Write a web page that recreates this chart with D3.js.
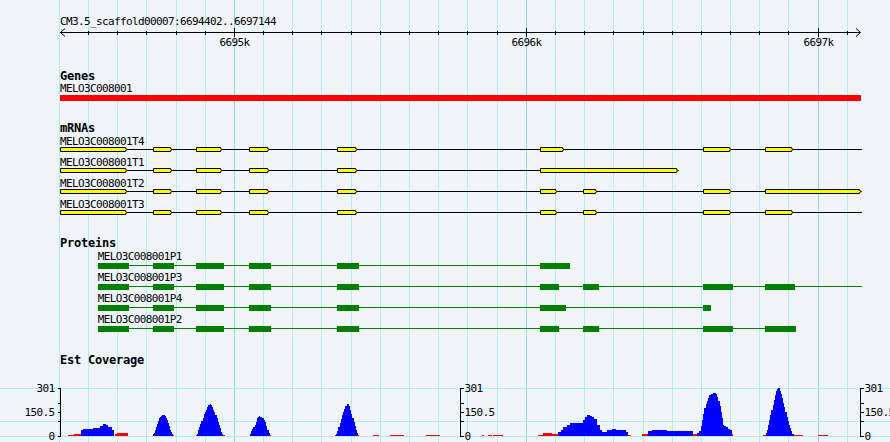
<!DOCTYPE html>
<html><head><meta charset="utf-8">
<script src="https://cdn.jsdelivr.net/npm/d3@7/dist/d3.min.js"></script>
<style>
body{margin:0;background:#f1f4f9}
svg{display:block}
.sm{font-family:'DejaVu Sans Mono',monospace;font-size:11px;letter-spacing:-0.62px;fill:#000}
.bd{font-family:'DejaVu Sans Mono',monospace;font-size:12px;font-weight:bold;letter-spacing:-0.22px;fill:#000}
</style>
</head><body>
<svg id="c" width="890" height="442"></svg>
<script>
// ---------- DATA ----------
const regionStart = 6694402;
const regionEnd = 6697144;
const regionTitle = "CM3.5_scaffold00007:6694402..6697144";
const rulerMajorTicks = [6695000, 6696000, 6697000];
const rulerMajorLabels = ["6695k", "6696k", "6697k"];
const trackTitles = ["Genes", "mRNAs", "Proteins", "Est Coverage"];

const geneNames = ["MELO3C008001"];
const geneSpans = [[6694402, 6697144]];

const mrnaNames = ["MELO3C008001T4", "MELO3C008001T1", "MELO3C008001T2", "MELO3C008001T3"];
const mrnaSpans = [[6694402, 6697150], [6694402, 6696521], [6694402, 6697146], [6694402, 6697150]];
const mrnaExons = [
  [[6694402,6694631],[6694721,6694786],[6694868,6694957],[6695050,6695117],[6695351,6695419],[6696048,6696129],[6696605,6696700],[6696817,6696913]],
  [[6694402,6694631],[6694721,6694786],[6694868,6694957],[6695050,6695117],[6695351,6695419],[6696048,6696521]],
  [[6694402,6694631],[6694721,6694786],[6694868,6694957],[6695050,6695117],[6695351,6695419],[6696048,6696104],[6696194,6696241],[6696605,6696700],[6696817,6697146]],
  [[6694402,6694631],[6694721,6694786],[6694868,6694957],[6695050,6695117],[6695351,6695419],[6696048,6696104],[6696194,6696241],[6696605,6696700],[6696817,6696913]]
];

const proteinNames = ["MELO3C008001P1", "MELO3C008001P3", "MELO3C008001P4", "MELO3C008001P2"];
const proteinSpans = [[6694532, 6696150], [6694532, 6697150], [6694532, 6696633], [6694532, 6696923]];
const proteinCds = [
  [[6694532,6694639],[6694721,6694793],[6694868,6694963],[6695050,6695125],[6695351,6695427],[6696047,6696150]],
  [[6694532,6694639],[6694721,6694793],[6694868,6694963],[6695050,6695125],[6695351,6695427],[6696047,6696112],[6696194,6696249],[6696605,6696708],[6696817,6696920]],
  [[6694532,6694639],[6694721,6694793],[6694868,6694963],[6695050,6695125],[6695351,6695427],[6696047,6696136],[6696605,6696633]],
  [[6694532,6694639],[6694721,6694793],[6694868,6694963],[6695050,6695125],[6695351,6695427],[6696047,6696112],[6696194,6696249],[6696605,6696708],[6696817,6696923]]
];

// coverage: offsets (bp) from regionStart; blue peaks as step points [offset, value]
const covMax = 301;
const covTickLabels = ["0", "150.5", "301"];
const covTickValues = [0, 150.5, 301];
const covMinorTicks = [96, 205];
const covGridValues = [0, 96, 301];
const covBlue = [
  [[72,38],[80,42],[94,44],[114,50],[128,48],[137,63],[149,73],[158,70],[166,58],[177,36],[185,0]],
  [[320,10],[323,20],[327,35],[330,55],[334,75],[337,95],[341,110],[344,122],[347,128],[351,132],[358,130],[361,125],[365,115],[368,100],[372,80],[375,60],[378,40],[382,25],[385,12],[389,0]],
  [[469,15],[473,35],[477,55],[481,75],[485,95],[489,115],[493,135],[497,150],[501,165],[505,180],[509,192],[513,200],[517,192],[521,180],[525,165],[529,148],[533,130],[537,110],[541,90],[545,70],[549,48],[553,28],[557,12],[560,0]],
  [[651,15],[655,30],[659,45],[663,55],[667,70],[671,90],[675,110],[679,120],[683,125],[687,120],[691,115],[695,110],[699,100],[703,85],[707,65],[711,40],[715,20],[719,0]],
  [[946,12],[950,30],[954,55],[958,80],[962,105],[966,130],[970,150],[974,170],[978,188],[982,198],[986,198],[990,185],[994,165],[998,140],[1002,115],[1006,90],[1010,65],[1014,40],[1018,20],[1022,0]],
  [[1708,27],[1716,40],[1725,54],[1737,70],[1748,80],[1771,82],[1793,100],[1800,118],[1805,132],[1815,128],[1822,122],[1830,105],[1839,70],[1850,35],[1857,28],[1873,38],[1890,42],[1907,40],[1924,35],[1941,25],[1947,0]],
  [[2016,30],[2028,38],[2062,38],[2079,33],[2113,33],[2170,0]],
  [[2182,20],[2189,30],[2196,60],[2200,100],[2204,140],[2208,173],[2212,200],[2216,220],[2220,240],[2225,255],[2230,265],[2236,272],[2242,272],[2248,262],[2252,245],[2256,220],[2260,190],[2264,150],[2268,110],[2272,69],[2276,60],[2282,54],[2290,45],[2296,36],[2302,0]],
  [[2418,20],[2422,40],[2426,70],[2430,100],[2434,132],[2438,165],[2442,195],[2446,226],[2450,255],[2454,280],[2458,295],[2462,301],[2466,285],[2470,265],[2474,240],[2478,210],[2482,180],[2486,150],[2490,120],[2494,95],[2498,70],[2502,50],[2506,30],[2510,15],[2514,0]]
];
// red segments [startOffset, endOffset, value]
const covRed = [
  [29,48,6],[48,72,15],[189,195,10],[195,232,19],[386,391,4],[465,470,5],[554,566,5],[716,722,5],
  [944,950,5],[1017,1025,5],[1072,1094,6],[1131,1179,6],[1254,1302,6],[1445,1453,4],[1467,1479,4],
  [1483,1519,6],[1639,1656,8],[1656,1685,18],[1685,1708,14],[1946,1958,5],[1993,2016,10],
  [2170,2182,15],[2299,2306,12],[2410,2418,5],[2513,2547,6],[2598,2632,6]
];

// ---------- DRAW ----------
const W = 890, H = 442;
const svg = d3.select("#c");
const x = d3.scaleLinear().domain([regionStart, regionEnd + 1]).range([59.9, 860.5]);
const px = v => Math.floor(x(v)) + 0.5;

// background
svg.append("rect").attr("width", W).attr("height", H).attr("fill", "#f1f4f9");

// vertical grid lines
const gridG = svg.append("g").attr("shape-rendering", "crispEdges");
d3.range(6694400, 6697101, 100).forEach(p => {
  gridG.append("line").attr("x1", px(p)).attr("x2", px(p)).attr("y1", 0).attr("y2", H)
    .attr("stroke", p % 1000 === 0 ? "#8dd6ec" : "#b0eef2").attr("stroke-width", 1);
});

// coverage scale + horizontal grid
const y = d3.scaleLinear().domain([0, covMax]).range([436, 388]);
covGridValues.forEach(v => {
  gridG.append("line").attr("x1", 0).attr("x2", W)
    .attr("y1", Math.round(y(v)) + 0.5).attr("y2", Math.round(y(v)) + 0.5)
    .attr("stroke", "#b0eef2");
});

// ruler
const rul = svg.append("g");
rul.append("text").attr("class", "sm").attr("x", 60).attr("y", 25).text(regionTitle);
rul.append("line").attr("x1", 60).attr("x2", 860).attr("y1", 32.5).attr("y2", 32.5).attr("stroke", "#000");
rul.append("path").attr("d", "M65,28.5L60.5,32.5L65,36.5").attr("fill", "none").attr("stroke", "#000");
rul.append("path").attr("d", "M856,28.5L860.5,32.5L856,36.5").attr("fill", "none").attr("stroke", "#000");
d3.range(6694500, 6697101, 100).forEach(p => {
  const major = rulerMajorTicks.includes(p);
  rul.append("line").attr("x1", px(p)).attr("x2", px(p))
    .attr("y1", major ? 28 : 30.5).attr("y2", major ? 37 : 34.5).attr("stroke", "#000")
    .attr("shape-rendering", "crispEdges");
});
rulerMajorTicks.forEach((p, i) => {
  rul.append("text").attr("class", "sm").attr("x", px(p)).attr("y", 46)
    .attr("text-anchor", "middle").text(rulerMajorLabels[i]);
});

// Genes track
svg.append("text").attr("class", "bd").attr("x", 60).attr("y", 80).text(trackTitles[0]);
geneNames.forEach((n, i) => {
  svg.append("text").attr("class", "sm").attr("x", 60).attr("y", 92).text(n);
  svg.append("rect").attr("x", x(geneSpans[i][0])).attr("y", 95)
    .attr("width", x(geneSpans[i][1] + 1) - x(geneSpans[i][0])).attr("height", 6)
    .attr("fill", "#ff0000").attr("shape-rendering", "crispEdges");
});

// mRNAs track
svg.append("text").attr("class", "bd").attr("x", 60).attr("y", 132).text(trackTitles[1]);
mrnaNames.forEach((n, i) => {
  const ly = 149.5 + i * 21;
  svg.append("text").attr("class", "sm").attr("x", 60).attr("y", ly - 5).text(n);
  svg.append("line").attr("x1", x(mrnaSpans[i][0])).attr("x2", x(mrnaSpans[i][1]))
    .attr("y1", ly).attr("y2", ly).attr("stroke", "#000").attr("stroke-width", 1);
  mrnaExons[i].forEach(e => {
    const x0 = Math.round(x(e[0])) + 0.5, x1 = Math.round(x(e[1])) + 0.5;
    svg.append("path")
      .attr("d", `M${x0},${ly - 2}H${x1 - 2}V${ly - 1}L${x1},${ly}L${x1 - 2},${ly + 1}V${ly + 2}H${x0}Z`)
      .attr("fill", "#ffff00").attr("stroke", "#000").attr("stroke-width", 1);
  });
});

// Proteins track
svg.append("text").attr("class", "bd").attr("x", 60).attr("y", 247).text(trackTitles[2]);
proteinNames.forEach((n, i) => {
  const ly = 265.5 + i * 21;
  svg.append("text").attr("class", "sm").attr("x", x(proteinSpans[i][0])).attr("y", ly - 6).text(n);
  svg.append("line").attr("x1", x(proteinSpans[i][0])).attr("x2", x(proteinSpans[i][1]))
    .attr("y1", ly).attr("y2", ly).attr("stroke", "#008000").attr("stroke-width", 1);
  proteinCds[i].forEach(c => {
    svg.append("rect").attr("x", Math.round(x(c[0]))).attr("y", ly - 2.5)
      .attr("width", Math.round(x(c[1])) - Math.round(x(c[0]))).attr("height", 6)
      .attr("fill", "#008000").attr("shape-rendering", "crispEdges");
  });
});

// Coverage track
svg.append("text").attr("class", "bd").attr("x", 60).attr("y", 364).text(trackTitles[3]);
const covG = svg.append("g");
covRed.forEach(r => {
  covG.append("rect").attr("x", x(regionStart + r[0])).attr("y", y(r[2]))
    .attr("width", x(regionStart + r[1]) - x(regionStart + r[0])).attr("height", y(0) - y(r[2]))
    .attr("fill", "#ff0000").attr("shape-rendering", "crispEdges");
});
const area = d3.area().curve(d3.curveStepAfter)
  .x(d => x(regionStart + d[0])).y0(y(0)).y1(d => y(d[1]));
covBlue.forEach(seg => {
  covG.append("path").attr("d", area(seg)).attr("fill", "#0000ff").attr("shape-rendering", "crispEdges");
});

// coverage axes
const axes = [{ax: 60.5, dir: -1}, {ax: 460.5, dir: 1}, {ax: 860.5, dir: 1}];
axes.forEach(a => {
  const g = svg.append("g").attr("shape-rendering", "crispEdges");
  g.append("line").attr("x1", a.ax).attr("x2", a.ax).attr("y1", y(covMax)).attr("y2", y(0) + 1).attr("stroke", "#000");
  covTickValues.concat(covMinorTicks).forEach(v => {
    const ty = Math.round(y(v)) + 0.5;
    g.append("line").attr("x1", a.ax).attr("x2", a.ax + a.dir * 3).attr("y1", ty).attr("y2", ty).attr("stroke", "#000");
  });
  covTickValues.forEach((v, i) => {
    g.append("text").attr("class", "sm")
      .attr("x", a.dir < 0 ? a.ax - 6 : a.ax + 4)
      .attr("y", Math.round(y(v)) + 4)
      .attr("text-anchor", a.dir < 0 ? "end" : "start")
      .text(covTickLabels[i]);
  });
});
</script>
</body></html>
